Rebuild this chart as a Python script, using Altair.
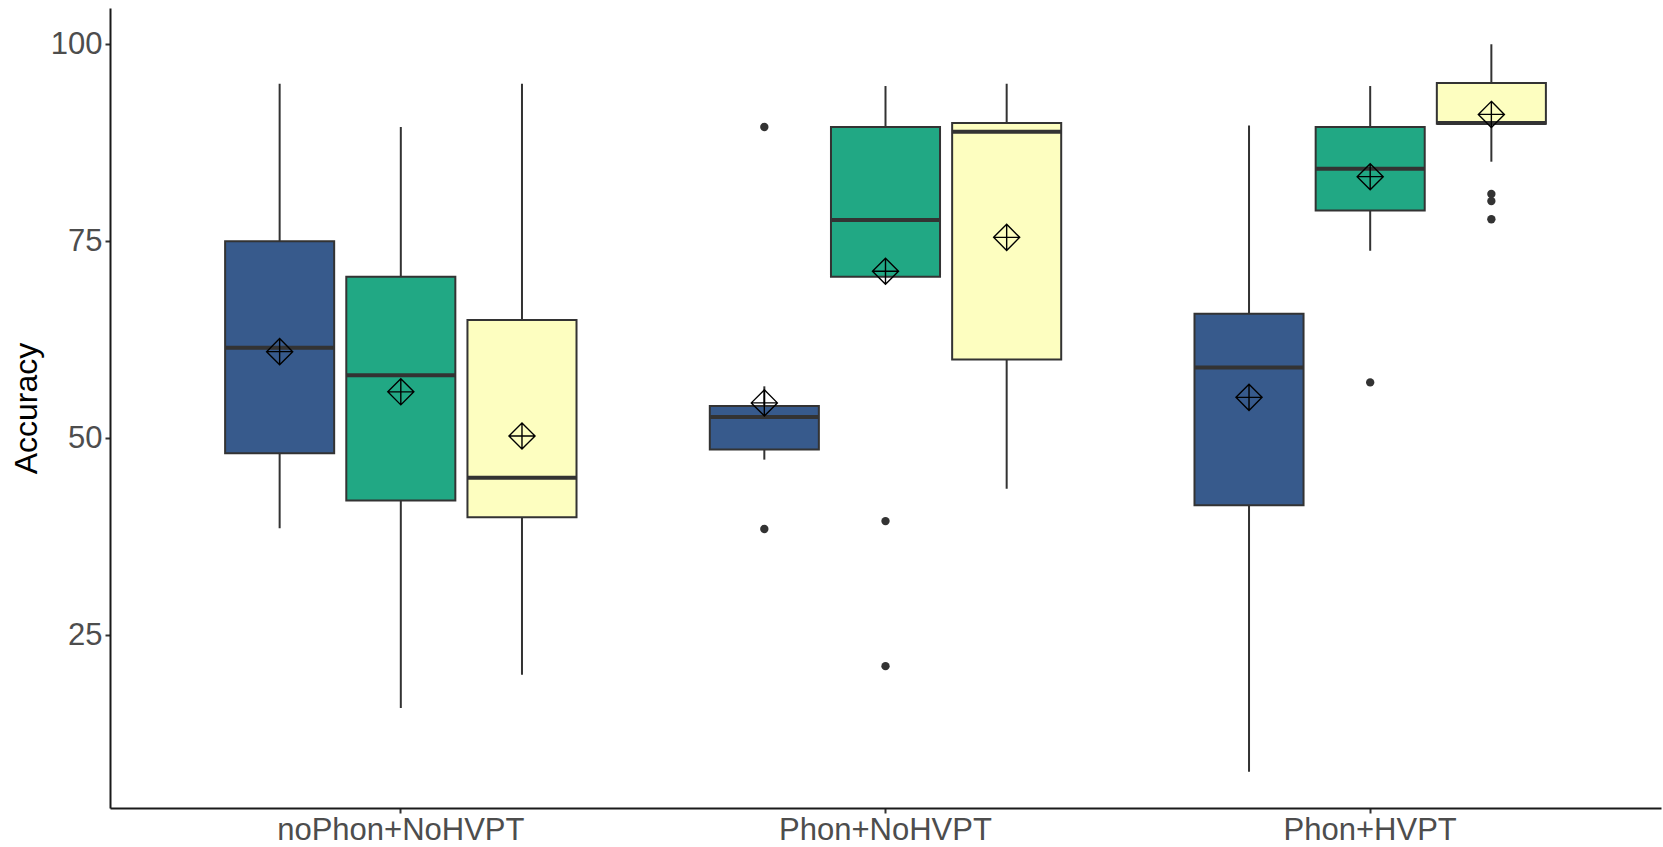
import altair as alt
import pandas as pd

# Box-plot summary statistics per training condition and test
groups = ["noPhon+NoHVPT"] * 3 + ["Phon+NoHVPT"] * 3 + ["Phon+HVPT"] * 3
tests = ["Test 1", "Test 2", "Test 3"] * 3
whisk_lo = [38.6, 15.8, 20.0, 47.3, 70.5, 43.6, 7.7, 73.8, 85.1]
q1 = [48.1, 42.1, 40.0, 48.6, 70.5, 60.0, 41.5, 78.9, 89.9]
median = [61.5, 58.0, 45.0, 52.7, 77.7, 88.9, 59.0, 84.2, 90.0]
q3 = [75.0, 70.5, 65.0, 54.1, 89.5, 90.0, 65.8, 89.5, 95.1]
whisk_hi = [95.0, 89.5, 95.0, 56.6, 94.7, 95.0, 89.7, 94.7, 100.0]
means = [61.0, 55.9, 50.3, 54.5, 71.2, 75.5, 55.2, 83.2, 91.1]

# Outlying observations
out_group = ["Phon+NoHVPT", "Phon+NoHVPT", "Phon+NoHVPT", "Phon+NoHVPT",
             "Phon+HVPT", "Phon+HVPT", "Phon+HVPT", "Phon+HVPT"]
out_test = ["Test 1", "Test 1", "Test 2", "Test 2",
            "Test 2", "Test 3", "Test 3", "Test 3"]
out_value = [89.5, 38.5, 39.5, 21.1, 57.1, 81.0, 80.1, 77.8]

group_order = ["noPhon+NoHVPT", "Phon+NoHVPT", "Phon+HVPT"]
test_order = ["Test 1", "Test 2", "Test 3"]
fill_colors = ["#375A8C", "#21A884", "#FDFEC0"]

stats = pd.DataFrame({
    "group": groups, "test": tests, "lo": whisk_lo, "q1": q1,
    "median": median, "q3": q3, "hi": whisk_hi, "mean": means,
})
outliers = pd.DataFrame({"group": out_group, "test": out_test, "value": out_value})

y_scale = alt.Scale(domain=[3.1, 104.6], nice=False, zero=False)
x_enc = alt.X(
    "group:N",
    sort=group_order,
    scale=alt.Scale(paddingInner=0.25, paddingOuter=0.225),
    axis=alt.Axis(title=None, labelAngle=0, labelLimit=0),
)
off_enc = alt.XOffset(
    "test:N", sort=test_order,
    scale=alt.Scale(paddingInner=0.1, paddingOuter=0.05),
)
fill_enc = alt.Fill(
    "test:N", sort=test_order,
    scale=alt.Scale(domain=test_order, range=fill_colors), legend=None,
)

base = alt.Chart(stats).encode(x=x_enc, xOffset=off_enc)

whiskers = base.mark_rule(color="#333333", strokeWidth=2).encode(
    y=alt.Y("lo:Q", scale=y_scale,
            axis=alt.Axis(title="Accuracy", values=[25, 50, 75, 100])),
    y2="hi:Q",
)

boxes = base.mark_bar(stroke="#333333", strokeWidth=2).encode(
    y=alt.Y("q1:Q", scale=y_scale), y2="q3:Q", fill=fill_enc,
)

medians = base.mark_bar(stroke="#333333", strokeWidth=4, fillOpacity=0).encode(
    y=alt.Y("median:Q", scale=y_scale), y2="median:Q",
)

mean_marks = base.mark_point(
    shape="M0,-1L1,0L0,1L-1,0Z M0,-1L0,1 M-1,0L1,0",
    filled=False, stroke="black", strokeWidth=1.4, size=680, opacity=1,
).encode(y=alt.Y("mean:Q", scale=y_scale))

out_marks = alt.Chart(outliers).mark_circle(
    color="#333333", size=70, opacity=1
).encode(
    x=x_enc, xOffset=off_enc, y=alt.Y("value:Q", scale=y_scale),
)

chart = (
    alt.layer(whiskers, boxes, medians, out_marks, mean_marks)
    .properties(
        width=1551, height=800,
        autosize=alt.AutoSizeParams(type="none"),
        padding={"left": 110, "top": 8, "right": 2, "bottom": 39},
    )
    .configure_view(stroke=None)
    .configure_axis(
        grid=False,
        domainColor="#1A1A1A", domainWidth=2,
        tickColor="#333333", tickWidth=2, tickSize=5,
        labelFont="Liberation Sans", labelFontSize=31, labelColor="#4D4D4D",
        labelPadding=3, labelLimit=0,
        titleFont="Liberation Sans", titleFontSize=32, titleColor="#000000",
        titleFontWeight="normal",
    )
    .configure_axisX(labelPadding=2)
    .configure_axisY(titlePadding=7)
)

chart.save("out.html", embed_options={"renderer": "svg", "actions": False})
